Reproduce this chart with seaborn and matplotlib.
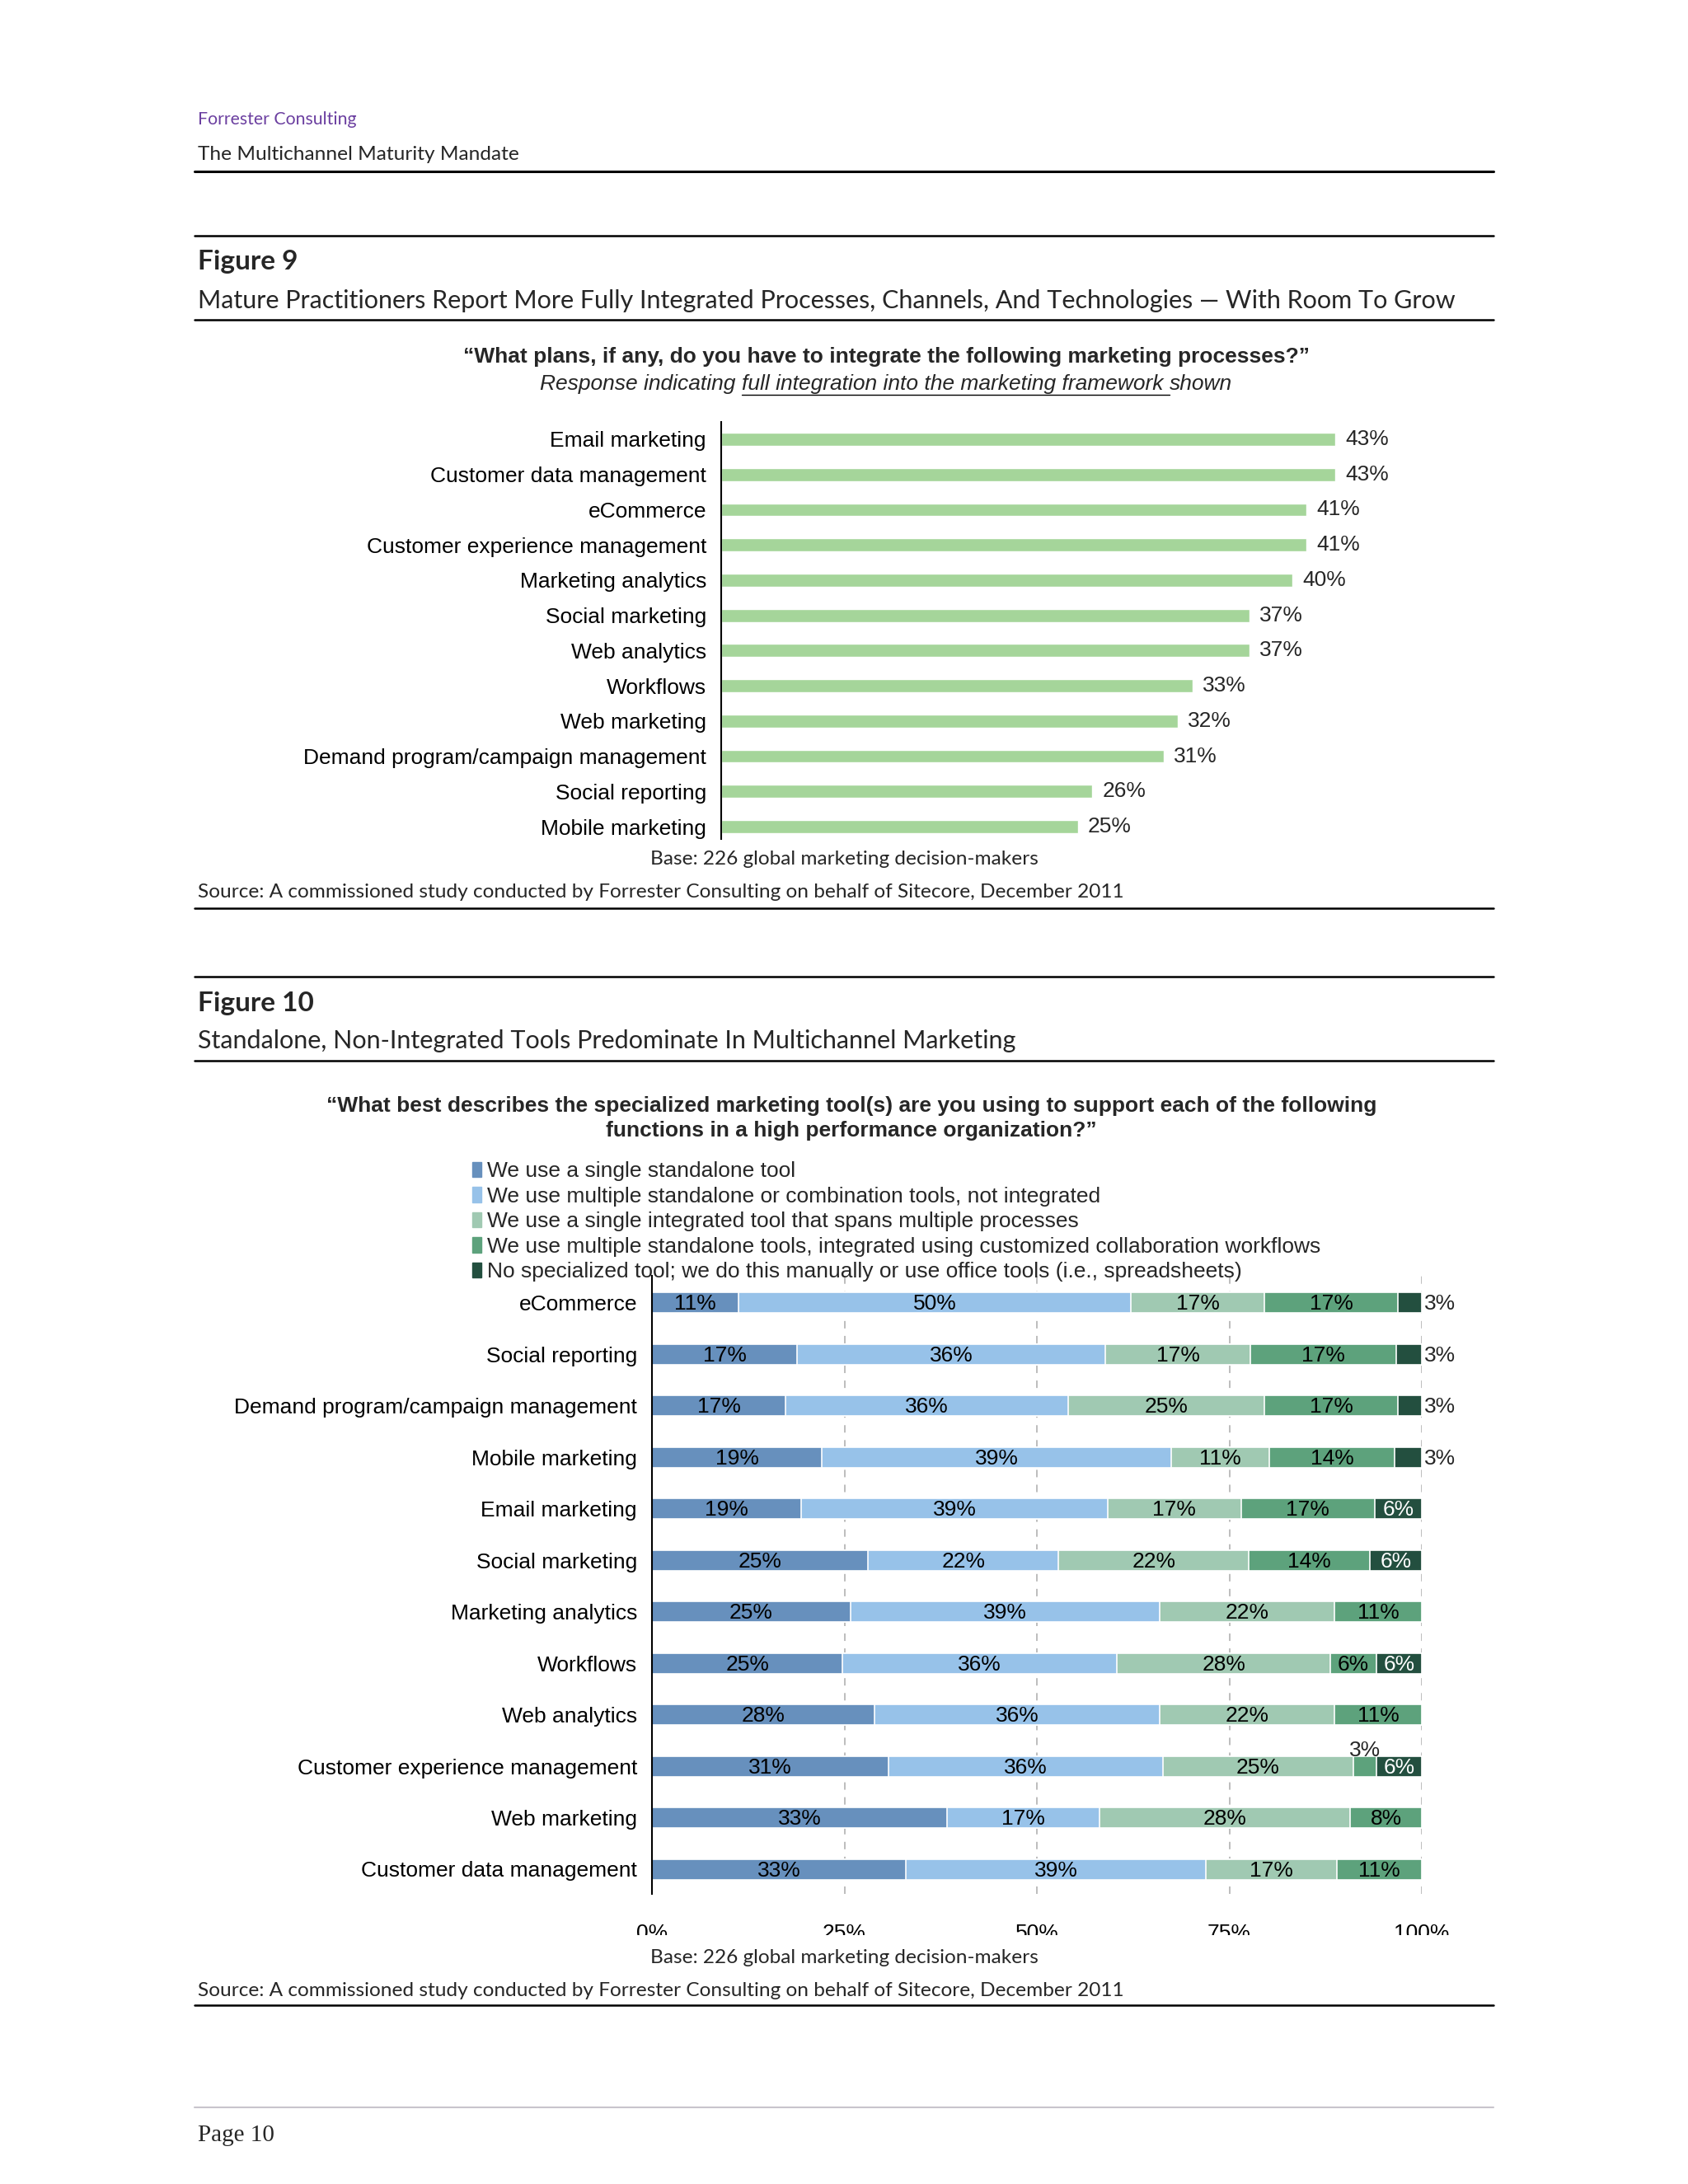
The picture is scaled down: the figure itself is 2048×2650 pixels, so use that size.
import matplotlib
matplotlib.use("Agg")
import pandas as pd
import matplotlib.pyplot as plt
import matplotlib.patches as mpatches
from matplotlib.lines import Line2D
import seaborn as sns

# page size in pixels (dpi 100)
W, H = 2048, 2650

# Figure 9 data
fig9_labels = ["Email marketing", "Customer data management", "eCommerce",
               "Customer experience management", "Marketing analytics",
               "Social marketing", "Web analytics", "Workflows", "Web marketing",
               "Demand program/campaign management", "Social reporting",
               "Mobile marketing"]
fig9_values = [43, 43, 41, 41, 40, 37, 37, 33, 32, 31, 26, 25]

# Figure 10 data
fig10_labels = ["eCommerce", "Social reporting", "Demand program/campaign management",
                "Mobile marketing", "Email marketing", "Social marketing",
                "Marketing analytics", "Workflows", "Web analytics",
                "Customer experience management", "Web marketing",
                "Customer data management"]
single_tool = [11, 17, 17, 19, 19, 25, 25, 25, 28, 31, 33, 33]
multi_not_integrated = [50, 36, 36, 39, 39, 22, 39, 36, 36, 36, 17, 39]
single_integrated = [17, 17, 25, 11, 17, 22, 22, 28, 22, 25, 28, 17]
multi_integrated = [17, 17, 17, 14, 17, 14, 11, 6, 11, 3, 8, 11]
no_tool = [3, 3, 3, 3, 6, 6, 0, 6, 0, 6, 0, 0]

legend_labels = [
    "We use a single standalone tool",
    "We use multiple standalone or combination tools, not integrated",
    "We use a single integrated tool that spans multiple processes",
    "We use multiple standalone tools, integrated using customized collaboration workflows",
    "No specialized tool; we do this manually or use office tools (i.e., spreadsheets)",
]
SERIES_COLORS = ["#6790bd", "#97c2e9", "#a0c9b2", "#5da27c", "#234f3f"]
BAR9_COLOR = "#a5d59a"

sns.set_theme(style="white")
plt.rcParams["font.family"] = ["Liberation Sans", "DejaVu Sans"]
HEAD_FONT = ["Lato", "DejaVu Sans"]

fig = plt.figure(figsize=(W / 100, H / 100), dpi=100)
fig.patch.set_facecolor("white")


def fx(px):
    return px / W


def fy(py):
    return 1 - py / H


def rule(y, color="black", lw=1.8):
    fig.add_artist(Line2D([fx(236), fx(1812)], [fy(y), fy(y)],
                          transform=fig.transFigure, color=color, lw=lw))


# ---- page header ----
fig.text(fx(240), fy(145), "Forrester Consulting", color="#6b3fa0",
         fontsize=15.3, family=HEAD_FONT, va="center")
fig.text(fx(240), fy(188), "The Multichannel Maturity Mandate",
         fontsize=17.6, family=HEAD_FONT, va="center")
rule(208, lw=2.2)

# ---- Figure 9 ----
rule(286)
fig.text(fx(240), fy(318), "Figure 9", fontsize=24, fontweight="bold",
         family=HEAD_FONT, va="center")
fig.text(fx(240), fy(365),
         "Mature Practitioners Report More Fully Integrated Processes, Channels, "
         "And Technologies \u2014 With Room To Grow",
         fontsize=22, family=HEAD_FONT, va="center")
rule(388)
fig.text(fx(1075), fy(433),
         "\u201cWhat plans, if any, do you have to integrate the following marketing processes?\u201d",
         fontsize=19, fontweight="bold", ha="center", va="center")

# italic line with an underlined part
renderer = fig.canvas.get_renderer()
parts = [("Response indicating ", False),
         ("full integration into the marketing framework ", True),
         ("shown", False)]
bar_ref = fig.text(0, 0, "|", fontsize=19, style="italic")
bar_w = bar_ref.get_window_extent(renderer).width
bar_ref.remove()
widths = []
for s, _ in parts:
    t = fig.text(0, 0, s + "|", fontsize=19, style="italic")
    widths.append(t.get_window_extent(renderer).width - bar_w)
    t.remove()
x = 1075 - sum(widths) / 2
for (s, underline), w in zip(parts, widths):
    fig.text(fx(x), fy(466), s, fontsize=19, style="italic", va="center")
    if underline:
        fig.add_artist(Line2D([fx(x), fx(x + w)], [fy(479), fy(479)],
                              transform=fig.transFigure, color="black", lw=1.0))
    x += w

ax1 = fig.add_axes([fx(875), fy(1018), 866 / W, (1018 - 512) / H])
sns.barplot(x=fig9_values, y=fig9_labels, orient="h", color=BAR9_COLOR,
            saturation=1, width=0.37, errorbar=None, ax=ax1)
ax1.set_xlim(0, 50)
ax1.set_ylim(11.35, -0.49)
for side in ["top", "right", "bottom"]:
    ax1.spines[side].set_visible(False)
ax1.spines["left"].set_color("black")
ax1.spines["left"].set_linewidth(1.5)
ax1.set_xticks([])
ax1.set_xlabel("")
ax1.set_ylabel("")
ax1.tick_params(axis="y", length=0, pad=13, labelsize=19, labelcolor="black")
for i, v in enumerate(fig9_values):
    ax1.text(v + 0.7, i, f"{v}%", ha="left", va="center", fontsize=19)

fig.text(fx(1024), fy(1043), "Base: 226 global marketing decision-makers",
         fontsize=17.6, family=HEAD_FONT, ha="center", va="center")
fig.text(fx(240), fy(1083),
         "Source: A commissioned study conducted by Forrester Consulting on behalf "
         "of Sitecore, December 2011",
         fontsize=17.6, family=HEAD_FONT, va="center")
rule(1102)

# ---- Figure 10 ----
rule(1185)
fig.text(fx(240), fy(1217), "Figure 10", fontsize=24, fontweight="bold",
         family=HEAD_FONT, va="center")
fig.text(fx(240), fy(1263),
         "Standalone, Non-Integrated Tools Predominate In Multichannel Marketing",
         fontsize=22, family=HEAD_FONT, va="center")
rule(1287)
fig.text(fx(1033), fy(1342),
         "\u201cWhat best describes the specialized marketing tool(s) are you using "
         "to support each of the following",
         fontsize=19, fontweight="bold", ha="center", va="center")
fig.text(fx(1033), fy(1372), "functions in a high performance organization?\u201d",
         fontsize=19, fontweight="bold", ha="center", va="center")

df = pd.DataFrame({
    "Function": fig10_labels,
    "single_tool": single_tool,
    "multi_not_integrated": multi_not_integrated,
    "single_integrated": single_integrated,
    "multi_integrated": multi_integrated,
    "no_tool": no_tool,
})
series = ["single_tool", "multi_not_integrated", "single_integrated",
          "multi_integrated", "no_tool"]
shares = df[series].div(df[series].sum(axis=1), axis=0) * 100
cum = shares.cumsum(axis=1)

ax2 = fig.add_axes([fx(791), fy(2298), (1725 - 791) / W, (2298 - 1548) / H])
ax2.xaxis.grid(True, linestyle=(0, (5, 5)), color="#b8b8b8", lw=1.3)
ax2.set_axisbelow(True)
# stacked bars: draw cumulative layers from the outside in
for col, color in reversed(list(zip(series, SERIES_COLORS))):
    sns.barplot(x=cum[col], y=df["Function"], orient="h", color=color,
                saturation=1, width=0.4, errorbar=None, edgecolor="white",
                linewidth=1.2, ax=ax2)
ax2.set_xlim(0, 100)
ax2.set_ylim(11.48, -0.52)
ax2.set_xticks([0, 25, 50, 75, 100])
ax2.set_xticklabels(["0%", "25%", "50%", "75%", "100%"])
for side in ["top", "right", "bottom"]:
    ax2.spines[side].set_visible(False)
ax2.spines["left"].set_color("black")
ax2.spines["left"].set_linewidth(1.5)
ax2.set_xlabel("")
ax2.set_ylabel("")
ax2.tick_params(axis="y", length=0, pad=13, labelsize=19, labelcolor="black")
ax2.tick_params(axis="x", length=0, pad=26, labelsize=19, labelcolor="black")

for i in range(len(df)):
    left = 0
    for j, col in enumerate(series):
        raw = df.loc[i, col]
        w = shares.loc[i, col]
        if raw == 0:
            continue
        label = f"{raw}%"
        if w < 5:
            if j == len(series) - 1:
                ax2.text(100.3, i + 0.03, label, ha="left", va="center", fontsize=19)
            else:
                ax2.text(left + w / 2, i - 0.3, label, ha="center", va="center",
                         fontsize=19)
        else:
            ax2.text(left + w / 2, i + 0.03, label, ha="center", va="center",
                     fontsize=19, color="white" if j == len(series) - 1 else "black")
        left += w

handles = [mpatches.Patch(color=c, label=l) for c, l in zip(SERIES_COLORS, legend_labels)]
fig.legend(handles=handles, loc="upper left", bbox_to_anchor=(fx(573), fy(1409)),
           frameon=False, fontsize=19, handlelength=0.4, handleheight=0.7,
           handletextpad=0.3, labelspacing=0.25, borderpad=0, borderaxespad=0)

# the axis tick labels are cut off at their lower edge on the original page
fig.add_artist(mpatches.Rectangle((0, fy(2362)), 1, (2362 - 2348) / H,
                                  transform=fig.transFigure, facecolor="white",
                                  edgecolor="none", zorder=10))

fig.text(fx(1024), fy(2375), "Base: 226 global marketing decision-makers",
         fontsize=17.6, family=HEAD_FONT, ha="center", va="center", zorder=11)
fig.text(fx(240), fy(2415),
         "Source: A commissioned study conducted by Forrester Consulting on behalf "
         "of Sitecore, December 2011",
         fontsize=17.6, family=HEAD_FONT, va="center")
rule(2433)

# ---- page footer ----
rule(2557, color="#c8c4cc", lw=1.5)
fig.text(fx(240), fy(2591), "Page 10", fontsize=21,
         family=["Liberation Serif", "DejaVu Serif"], va="center")

fig.savefig("out.png", dpi=100, facecolor="white")
